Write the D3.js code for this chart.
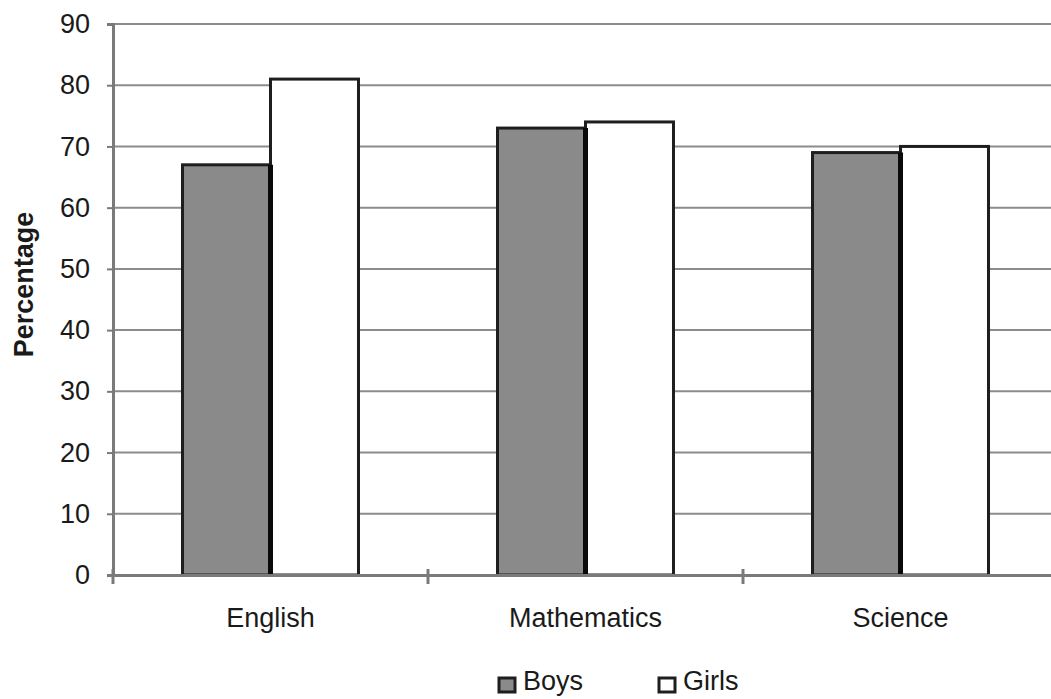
<!DOCTYPE html>
<html>
<head>
<meta charset="utf-8">
<script src="https://cdn.jsdelivr.net/npm/d3@7"></script>
<style>
  html, body { margin: 0; padding: 0; background: #fff; }
  svg { display: block; font-family: "Liberation Sans", Arial, sans-serif; }
</style>
</head>
<body>
<svg id="chart" width="1051" height="699"></svg>
<script>
// Percentage of pupils by subject
const subjects = ["English", "Mathematics", "Science"];
const seriesNames = ["Boys", "Girls"];
const boys = [67, 73, 69];
const girls = [81, 74, 70];
const yTicks = [0, 10, 20, 30, 40, 50, 60, 70, 80, 90];

const fills = { Boys: "#8a8a8a", Girls: "#ffffff" };
const ink = "#1e1e1e";
const textInk = "#1a1a1a";
const axisGrey = "#7a7a7a";
const fontSize = 27;

const svg = d3.select("#chart");
const W = 1051, H = 699;
const plotLeft = 113, plotTop = 24, plotBottom = 575;

// the category band extends past the right edge of the window
const x = d3.scaleBand()
  .domain(subjects)
  .range([plotLeft, plotLeft + 315 * subjects.length])
  .paddingInner(0)
  .paddingOuter(0);

const y = d3.scaleLinear().domain([0, 90]).range([plotBottom, plotTop]);

const inner = d3.scaleBand()
  .domain(seriesNames)
  .range([0, x.bandwidth()])
  .paddingOuter(0.79)
  .paddingInner(0);

// horizontal gridlines
svg.append("g")
  .selectAll("line")
  .data(yTicks.filter(d => d > 0))
  .join("line")
  .attr("x1", plotLeft)
  .attr("x2", W)
  .attr("y1", d => y(d))
  .attr("y2", d => y(d))
  .attr("stroke", "#8c8c8c")
  .attr("stroke-width", 2);

// bars
const rows = subjects.map((s, i) => ({ subject: s, values: [
  { name: "Boys", value: boys[i] },
  { name: "Girls", value: girls[i] }
]}));

const groups = svg.append("g")
  .selectAll("g")
  .data(rows)
  .join("g")
  .attr("transform", d => `translate(${x(d.subject)},0)`);

groups.selectAll("rect")
  .data(d => d.values)
  .join("rect")
  .attr("x", d => inner(d.name))
  .attr("y", d => y(d.value))
  .attr("width", inner.bandwidth())
  .attr("height", d => y(0) - y(d.value))
  .attr("fill", d => fills[d.name])
  .attr("stroke", ink)
  .attr("stroke-width", 3);

// darker separator edge on the boys' bars
groups.append("line")
  .attr("x1", d => inner("Boys") + inner.bandwidth())
  .attr("x2", d => inner("Boys") + inner.bandwidth())
  .attr("y1", d => y(d.values[0].value))
  .attr("y2", y(0))
  .attr("stroke", "#0a0a0a")
  .attr("stroke-width", 5);

// y axis
const yAxis = svg.append("g")
  .attr("transform", `translate(${plotLeft},0)`)
  .call(d3.axisLeft(y).tickValues(yTicks).tickSize(6).tickPadding(17).tickFormat(d3.format("d")));
yAxis.attr("font-size", fontSize).attr("font-family", "Liberation Sans, Arial, sans-serif");
yAxis.select(".domain").attr("stroke", axisGrey).attr("stroke-width", 3);
yAxis.selectAll(".tick line").attr("stroke", axisGrey).attr("stroke-width", 2);
yAxis.selectAll(".tick text").attr("fill", textInk);

// x axis
const xAxis = svg.append("g")
  .attr("transform", `translate(0,${plotBottom})`)
  .call(d3.axisBottom(x).tickSize(0).tickPadding(33));
xAxis.attr("font-size", fontSize).attr("font-family", "Liberation Sans, Arial, sans-serif");
xAxis.select(".domain").attr("stroke", axisGrey).attr("stroke-width", 3);
xAxis.selectAll(".tick text").attr("fill", textInk);

// category separators on the x axis
svg.append("g")
  .selectAll("line")
  .data(subjects)
  .join("line")
  .attr("x1", d => x(d))
  .attr("x2", d => x(d))
  .attr("y1", plotBottom - 6)
  .attr("y2", plotBottom + 9)
  .attr("stroke", axisGrey)
  .attr("stroke-width", 3);

// y axis title
svg.append("text")
  .attr("transform", `translate(33,${(y(0) + y(90)) / 2 - 15}) rotate(-90)`)
  .attr("text-anchor", "middle")
  .attr("font-size", 27)
  .attr("font-weight", "bold")
  .attr("fill", textInk)
  .text("Percentage");

// legend
const legend = svg.append("g").attr("transform", "translate(0,690)");
const legendX = { Boys: 499, Girls: 659 };
seriesNames.forEach(name => {
  const g = legend.append("g").attr("transform", `translate(${legendX[name]},0)`);
  g.append("rect")
    .attr("x", 0).attr("y", -12)
    .attr("width", 16).attr("height", 14)
    .attr("fill", fills[name])
    .attr("stroke", ink)
    .attr("stroke-width", 3);
  g.append("text")
    .attr("x", 24).attr("y", 0)
    .attr("font-size", fontSize)
    .attr("fill", textInk)
    .text(name);
});
</script>
</body>
</html>
